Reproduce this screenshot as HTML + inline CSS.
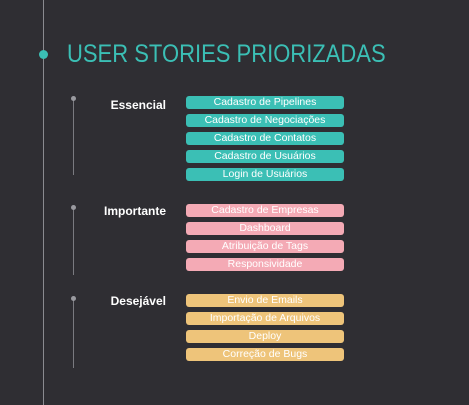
<!DOCTYPE html>
<html><head><style>
body{margin:0;width:469px;height:405px;background:#2f2e33;position:relative;overflow:hidden;font-family:"Liberation Sans",sans-serif}
.a{position:absolute}
.b{position:absolute;left:186px;width:158px;height:13px;border-radius:3px;color:#fff;font-size:10.5px;line-height:13px;text-align:center}
.t{background:#3bbfb5}.p{background:#f4aab5}.y{background:#eec47a}
.l{position:absolute;color:#fff;font-weight:bold;font-size:12px;text-align:right;width:70px;left:96px}
.v{position:absolute;left:72.5px;width:1.5px;background:#7a7a80}
.d{position:absolute;left:70.5px;width:5px;height:5px;border-radius:50%;background:#9a9aa0}
</style></head><body>
<div class="a" style="left:42.5px;top:0;width:1.5px;height:405px;background:#8a8a90"></div>
<div class="a" style="left:39px;top:49.5px;width:9px;height:9px;border-radius:50%;background:#3bbfb5"></div>
<div class="a" style="left:67px;top:40px;font-size:25px;color:#3bbfb5;line-height:28px;white-space:nowrap;transform:scaleX(0.88);transform-origin:left top">USER STORIES PRIORIZADAS</div>

<div class="v" style="top:98px;height:77px"></div><div class="d" style="top:96px"></div>
<div class="l" style="top:98px">Essencial</div>
<div class="b t" style="top:96px">Cadastro de Pipelines</div>
<div class="b t" style="top:114px">Cadastro de Negociações</div>
<div class="b t" style="top:132px">Cadastro de Contatos</div>
<div class="b t" style="top:150px">Cadastro de Usuários</div>
<div class="b t" style="top:168px">Login de Usuários</div>

<div class="v" style="top:207px;height:68px"></div><div class="d" style="top:205px"></div>
<div class="l" style="top:204px">Importante</div>
<div class="b p" style="top:204px">Cadastro de Empresas</div>
<div class="b p" style="top:222px">Dashboard</div>
<div class="b p" style="top:240px">Atribuição de Tags</div>
<div class="b p" style="top:258px">Responsividade</div>

<div class="v" style="top:298px;height:70px"></div><div class="d" style="top:296px"></div>
<div class="l" style="top:294px">Desejável</div>
<div class="b y" style="top:294px">Envio de Emails</div>
<div class="b y" style="top:312px">Importação de Arquivos</div>
<div class="b y" style="top:330px">Deploy</div>
<div class="b y" style="top:348px">Correção de Bugs</div>
</body></html>
